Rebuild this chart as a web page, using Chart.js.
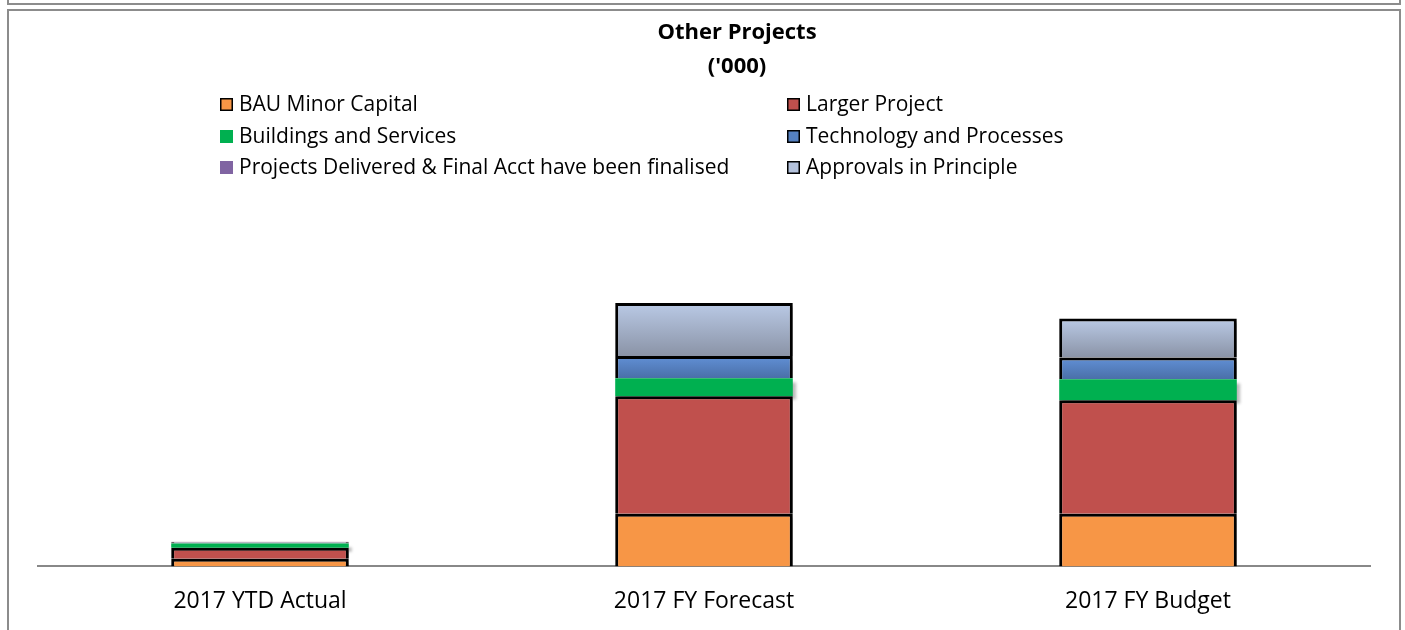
<!DOCTYPE html>
<html>
<head>
<meta charset="utf-8">
<script src="https://cdn.jsdelivr.net/npm/chart.js@4"></script>
<style>
  html, body { margin: 0; padding: 0; background: #fff; overflow: hidden; }
  #wrap { position: relative; width: 1405px; height: 630px; overflow: hidden; }
  /* the two sheet frames round the chart */
  .frame-top { position: absolute; left: 7px; top: -4px; width: 1390px; height: 7px;
               border: 2px solid #8c8c8c; border-top: none; }
  .frame-main { position: absolute; left: 7px; top: 9px; width: 1390px; height: 640px;
                border: 2px solid #8c8c8c; border-bottom: none; }
  canvas { position: absolute; left: 0; top: 0; }
</style>
</head>
<body>
<div id="wrap">
  <div class="frame-top"></div>
  <div class="frame-main"></div>
  <canvas id="otherProjects" width="1405" height="660"></canvas>
</div>
<script>
// --- chart data ('000) ---
const categories = ['2017 YTD Actual', '2017 FY Forecast', '2017 FY Budget'];

const bauMinorCapital    = [75, 525, 525];
const largerProject      = [110, 1170, 1130];
const buildingsServices  = [42, 180, 210];
const technologyProcess  = [9, 220, 215];
const projectsDelivered  = [0, 0, 0];
const approvalsPrinciple = [9, 530, 390];

const titleLines = ['Other Projects', "('000)"];
const FONT = '"Open Sans", sans-serif';

// order of the stack, bottom to top
const stackSeries = [bauMinorCapital, largerProject, buildingsServices, technologyProcess, projectsDelivered, approvalsPrinciple];

// vertical gradient for one bar segment, from the y scale
function segGradient(top, bottom, fallback) {
    return function(ctx) {
        const chart = ctx.chart;
        const y = chart.scales.y;
        if (!chart.chartArea || !y || ctx.dataIndex === undefined) return fallback;
        const di = ctx.datasetIndex;
        let base = 0;
        for (let k = 0; k < di; k++) base += stackSeries[k][ctx.dataIndex];
        const v = stackSeries[di][ctx.dataIndex];
        const y0 = y.getPixelForValue(base + v);
        const y1 = y.getPixelForValue(base);
        if (!isFinite(y0) || !isFinite(y1) || y1 - y0 < 1) return fallback;
        const g = chart.ctx.createLinearGradient(0, y0, 0, y1);
        g.addColorStop(0, top);
        g.addColorStop(1, bottom);
        return g;
    };
}

// title + two column legend, drawn where the sheet has them
const headerPlugin = {
    id: 'headerPlugin',
    afterDraw(chart) {
        const c = chart.ctx;
        c.save();
        c.fillStyle = '#000';
        c.textAlign = 'center';
        c.textBaseline = 'middle';
        c.font = 'bold 22px ' + FONT;
        c.fillText(titleLines[0], 737, 33);
        c.fillText(titleLines[1], 737, 67);

        const colX = [220, 787];
        const rowY = [105, 137, 168];
        c.font = '21px ' + FONT;
        c.textAlign = 'left';
        chart.data.datasets.forEach((ds, i) => {
            const x = colX[i % 2];
            const y = rowY[Math.floor(i / 2)];
            c.fillStyle = ds.legendColor;
            c.fillRect(x, y - 7, 13, 13);
            if (ds.borderWidth > 0) {
                c.strokeStyle = '#000';
                c.lineWidth = 1.5;
                c.strokeRect(x + 0.75, y - 6.25, 11.5, 11.5);
            }
            c.fillStyle = '#000';
            c.fillText(ds.label, x + 19, y);
        });
        c.restore();
    }
};

// soft shadow under the bars
const shadowPlugin = {
    id: 'shadowPlugin',
    beforeDatasetsDraw(chart) {
        const c = chart.ctx;
        c.save();
        c.shadowColor = 'rgba(0,0,0,0.28)';
        c.shadowBlur = 3;
        c.shadowOffsetX = 3;
        c.shadowOffsetY = 4;
    },
    afterDatasetsDraw(chart) {
        chart.ctx.restore();
    }
};

new Chart(document.getElementById('otherProjects'), {
    type: 'bar',
    data: {
        labels: categories,
        datasets: [
            { label: 'BAU Minor Capital', data: bauMinorCapital,
              backgroundColor: '#F79646', legendColor: '#F79646', borderColor: '#000', borderWidth: 3 },
            { label: 'Larger Project', data: largerProject,
              backgroundColor: '#C0504D', legendColor: '#C0504D', borderColor: '#000', borderWidth: 3 },
            { label: 'Buildings and Services', data: buildingsServices,
              backgroundColor: '#00B050', legendColor: '#00B050', borderWidth: 0 },
            { label: 'Technology and Processes', data: technologyProcess,
              backgroundColor: segGradient('#6190D6', '#4A6FA8', '#5580C0'), legendColor: '#5580C0',
              borderColor: '#000', borderWidth: 3 },
            { label: 'Projects Delivered & Final Acct have been finalised', data: projectsDelivered,
              backgroundColor: '#8064A2', legendColor: '#8064A2', borderWidth: 0 },
            { label: 'Approvals in Principle', data: approvalsPrinciple,
              backgroundColor: segGradient('#BACAE6', '#8A93A6', '#A8B6D0'), legendColor: '#B4C2DC',
              borderColor: '#000', borderWidth: 3 }
        ]
    },
    options: {
        responsive: false,
        animation: false,
        layout: { padding: { top: 200, left: 38, right: 35, bottom: 24 } },
        datasets: { bar: { barPercentage: 0.4, categoryPercentage: 1.0 } },
        scales: {
            x: {
                stacked: true,
                grid: { display: false, drawTicks: false },
                border: { display: true, color: '#888', width: 2 },
                ticks: { color: '#000', font: { family: FONT, size: 23 }, padding: 21 }
            },
            y: {
                stacked: true,
                display: false,
                min: 0,
                max: 3650
            }
        },
        plugins: {
            legend: { display: false },
            title: { display: false },
            tooltip: { enabled: false }
        }
    },
    plugins: [shadowPlugin, headerPlugin]
});
</script>
</body>
</html>
